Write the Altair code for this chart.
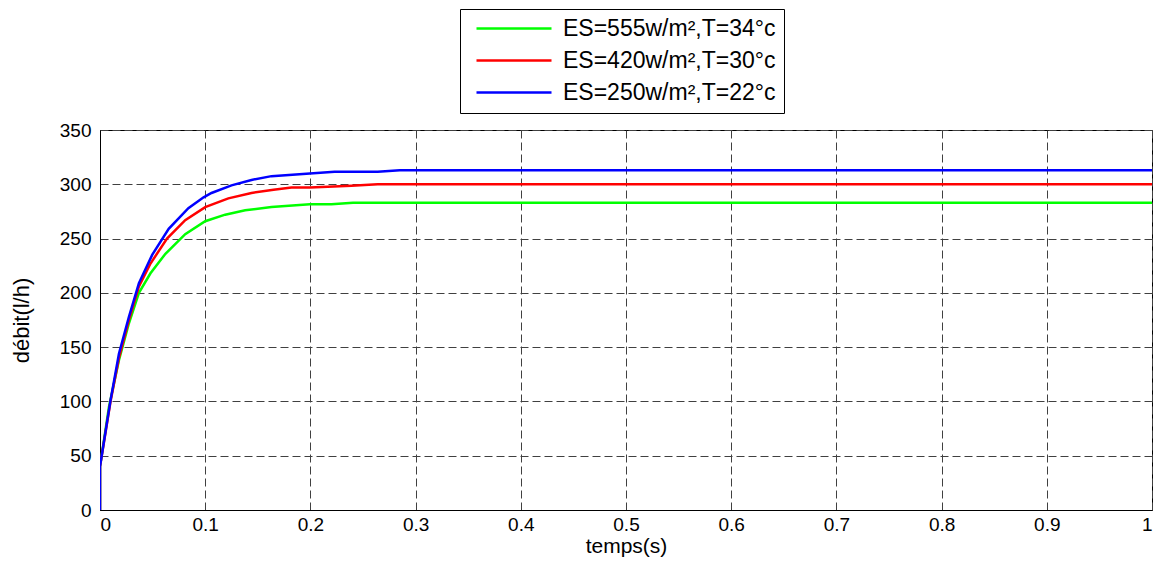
import altair as alt
import pandas as pd

labels = ["ES=555w/m²,T=34°c", "ES=420w/m²,T=30°c", "ES=250w/m²,T=22°c"]
colors = ["#00ff00", "#ff0000", "#0000ff"]

t_green = [0, 0, 0.0085, 0.018, 0.0275, 0.037, 0.048, 0.0622, 0.081, 0.100, 0.119, 0.138, 0.163, 0.1995, 0.22, 0.2405, 1.0]
v_green = [0, 40, 95, 138, 172, 200, 218, 236, 254, 266, 272, 276, 279, 281.5, 281.5, 283, 283]

t_red = [0, 0, 0.010, 0.018, 0.0275, 0.037, 0.048, 0.0637, 0.081, 0.100, 0.122, 0.144, 0.165, 0.182, 0.1995, 0.239, 0.264, 1.0]
v_red = [0, 40, 100, 140, 175, 206, 227, 250, 267, 279, 287, 292, 295, 297, 297, 298.7, 300, 300]

t_blue = [0, 0, 0.010, 0.018, 0.0275, 0.037, 0.0496, 0.0653, 0.084, 0.0985, 0.106, 0.125, 0.144, 0.163, 0.1995, 0.223, 0.264, 0.285, 1.0]
v_blue = [0, 40, 101, 144, 178, 209, 235, 259, 278, 288, 292, 299, 304, 307.5, 310, 311.6, 311.6, 313, 313]

x_ticks = [0, 0.1, 0.2, 0.3, 0.4, 0.5, 0.6, 0.7, 0.8, 0.9, 1]
y_ticks = [0, 50, 100, 150, 200, 250, 300, 350]

rows = []
for lab, ts, vs in zip(labels, [t_green, t_red, t_blue], [v_green, v_red, v_blue]):
    for i, (t, v) in enumerate(zip(ts, vs)):
        rows.append({"serie": lab, "t": t, "v": v, "i": i})
df = pd.DataFrame(rows)

FONT = "Liberation Sans"

chart = alt.Chart(df).mark_line(strokeWidth=2.5, clip=True).encode(
    x=alt.X("t:Q", scale=alt.Scale(domain=[0, 1], nice=False),
            axis=alt.Axis(values=x_ticks, title="temps(s)", format="~g")),
    y=alt.Y("v:Q", scale=alt.Scale(domain=[0, 350], nice=False),
            axis=alt.Axis(values=y_ticks, title="débit(l/h)")),
    color=alt.Color("serie:N", scale=alt.Scale(domain=labels, range=colors),
                    legend=alt.Legend(
                        title=None, orient="none", legendX=360, legendY=-121,
                        direction="vertical", strokeColor="black", fillColor="white",
                        padding=8, symbolType="M-0.3,0H7.2", symbolSize=400,
                        symbolStrokeWidth=2.5, labelFontSize=23, labelFont=FONT,
                        labelColor="black", labelOffset=72, rowPadding=8,
                        labelLimit=400)),
    order="i:Q",
    detail="serie:N",
).properties(
    width=1052, height=380,
    background="white",
    autosize=alt.AutoSizeParams(type="none"),
    padding={"left": 92, "top": 122, "right": 3, "bottom": 50},
).configure_view(
    stroke="black", strokeWidth=1
).configure_axis(
    grid=True, gridColor="#404040", gridDash=[8, 4], gridWidth=1,
    domain=True, domainColor="black", ticks=False,
    labelFont=FONT, labelFontSize=19, labelColor="black",
    titleFont=FONT, titleFontSize=22, titleFontWeight="normal", titleColor="black",
).configure_axisX(
    labelPadding=5, titlePadding=1, titleFontSize=21,
).configure_axisY(
    labelPadding=9, titlePadding=26,
)

chart.save("out.html", embed_options={"renderer": "svg", "actions": False})
